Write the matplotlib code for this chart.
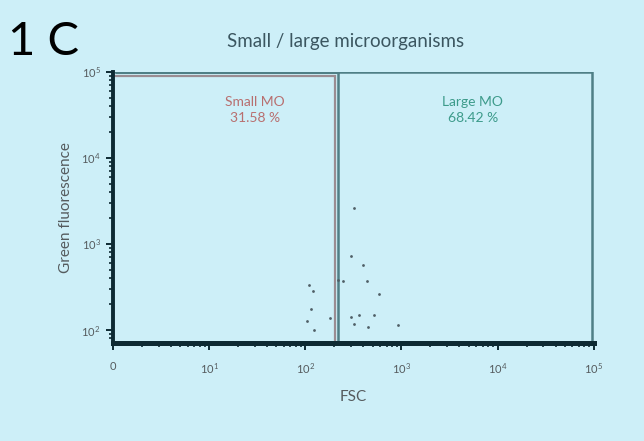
import matplotlib
matplotlib.use("Agg")
import matplotlib.pyplot as plt
from matplotlib.ticker import FixedLocator, LogLocator, NullFormatter

plt.rcParams["font.family"] = ["Lato", "DejaVu Sans"]
plt.rcParams["mathtext.default"] = "regular"

# -------------------------
# Data
# -------------------------

fsc = [320, 298, 397, 246, 218, 437, 582, 109, 120, 114,
       104, 123, 180, 298, 361, 517, 320, 448, 918]
green = [2590, 733, 575, 374, 385, 374, 264, 336, 286, 176,
         128, 100, 138, 142, 150, 150, 118, 109, 115]

x_ticks = [1, 10, 100, 1000, 10000, 100000]
x_labels = ["0", "$10^{1}$", "$10^{2}$", "$10^{3}$", "$10^{4}$", "$10^{5}$"]
y_ticks = [100, 1000, 10000, 100000]
y_labels = ["$10^{2}$", "$10^{3}$", "$10^{4}$", "$10^{5}$"]

# gates
small_gate_x = [1.05, 204, 204]
small_gate_y = [89000, 89000, 70.5]
large_gate_x = [218, 218, 1.05, 97000, 97000]
large_gate_y = [70.5, 99000, 99000, 99000, 70.5]

gate_labels = [("Small MO\n31.58 %", 30, "#b86f6f"),
               ("Large MO\n68.42 %", 5500, "#3d9b8b")]

bg = "#cdeff8"

# -------------------------
# Plot
# -------------------------

fig = plt.figure(figsize=(6.44, 4.41), dpi=100, facecolor=bg)
ax = fig.add_axes([0.1755, 0.222, 0.7465, 0.615], facecolor=bg)

ax.set_xscale("log")
ax.set_yscale("log")
ax.set_xlim(1, 100000)
ax.set_ylim(70.5, 100000)

ax.plot(small_gate_x, small_gate_y, color="#9a8c92", linewidth=1.6,
        solid_joinstyle="miter", zorder=2)
ax.plot(large_gate_x, large_gate_y, color="#4f7f86", linewidth=1.8,
        solid_joinstyle="miter", zorder=2)

ax.scatter(fsc, green, s=4, color="#4f5f66", zorder=3, linewidths=0)

for txt, xpos, col in gate_labels:
    ax.text(xpos, 36000, txt, ha="center", va="center",
            color=col, fontsize=10, linespacing=1.35)

# -------------------------
# Axes formatting
# -------------------------

for side in ["top", "right"]:
    ax.spines[side].set_visible(False)
ax.spines["left"].set_linewidth(2.8)
ax.spines["bottom"].set_linewidth(3.6)
ax.spines["left"].set_color("#0d2a33")
ax.spines["bottom"].set_color("#0d2a33")

ax.xaxis.set_major_locator(FixedLocator(x_ticks))
ax.set_xticklabels(x_labels)
ax.yaxis.set_major_locator(FixedLocator(y_ticks))
ax.set_yticklabels(y_labels)
ax.xaxis.set_minor_locator(LogLocator(base=10, subs=range(2, 10)))
ax.yaxis.set_minor_locator(LogLocator(base=10, subs=range(2, 10)))
ax.xaxis.set_minor_formatter(NullFormatter())
ax.yaxis.set_minor_formatter(NullFormatter())

ax.tick_params(which="major", length=5, width=1.4, color="#0d2a33",
               labelsize=8, labelcolor="#555b5e")
ax.tick_params(axis="x", which="major", pad=8)
ax.tick_params(axis="y", which="major", pad=4)
ax.tick_params(which="minor", length=3, width=1.2, color="#0d2a33")

ax.set_xlabel("FSC", fontsize=11, color="#555b5e", labelpad=10)
ax.set_ylabel("Green fluorescence", fontsize=11, color="#555b5e", labelpad=6)

fig.text(0.012, 0.905, "1 C", fontsize=34, color="black", va="center")
fig.text(0.536, 0.905, "Small / large microorganisms", fontsize=13.5,
         color="#3b5660", ha="center", va="center")

fig.savefig("out.png", dpi=100, facecolor=bg)
